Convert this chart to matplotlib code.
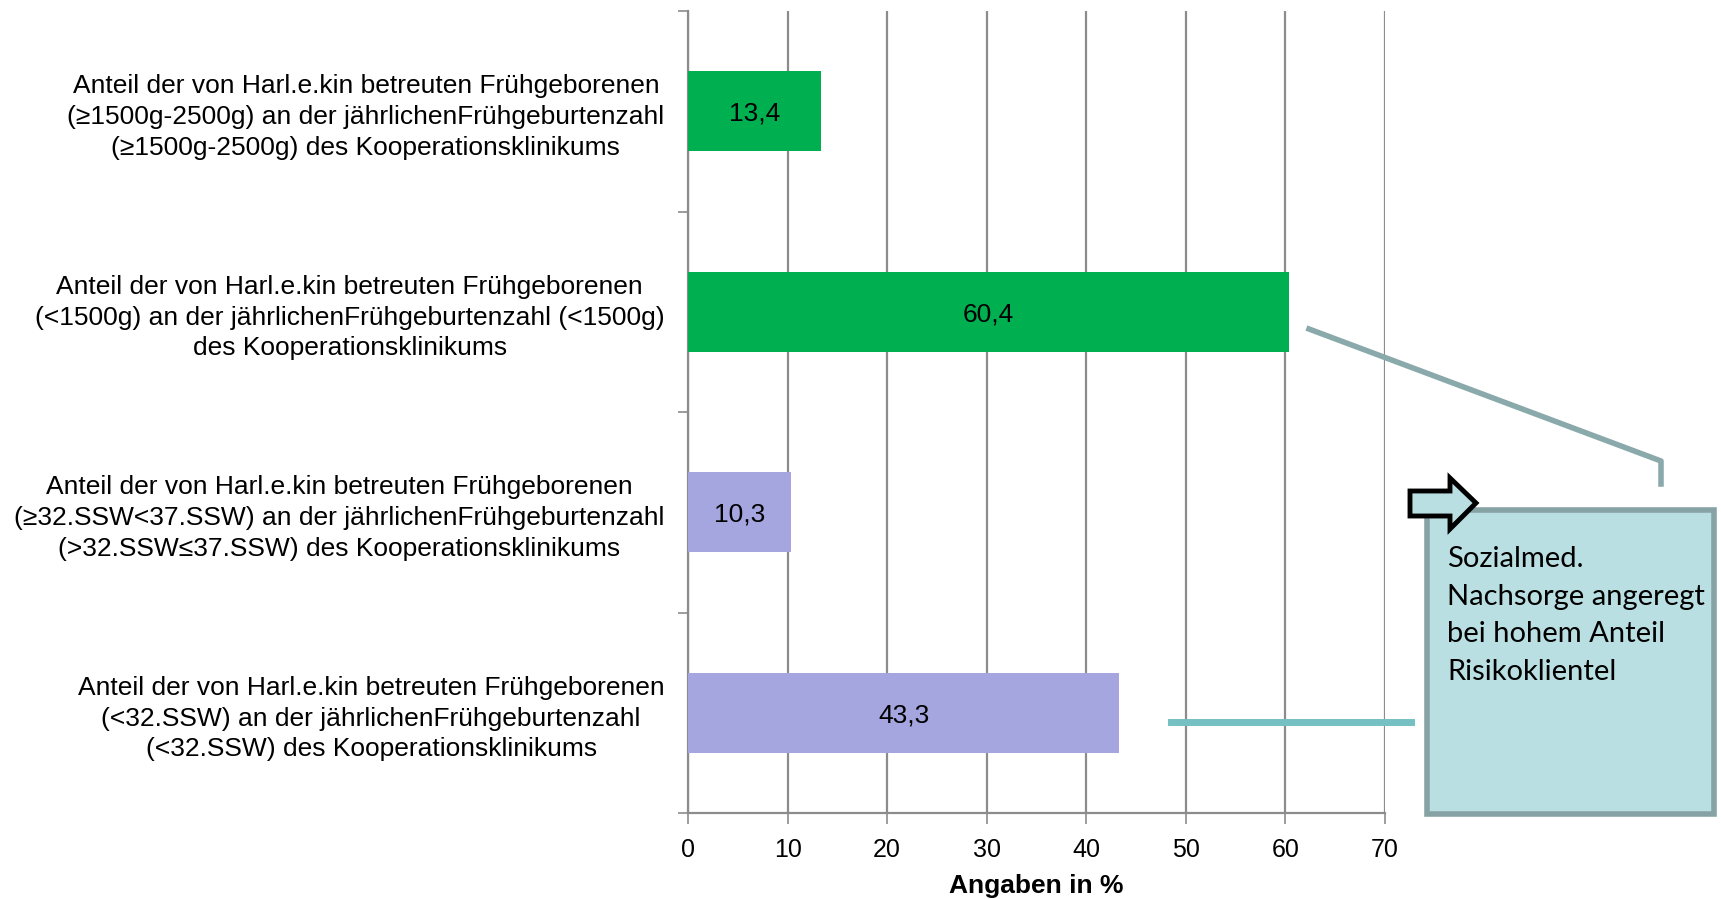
import numpy as np
import matplotlib.pyplot as plt
from matplotlib.patches import Rectangle, Polygon
from matplotlib.lines import Line2D

# --- Daten ---
kategorien = [
    "Anteil der von Harl.e.kin betreuten Frühgeborenen\n(≥1500g-2500g) an der jährlichenFrühgeburtenzahl\n(≥1500g-2500g) des Kooperationsklinikums",
    "Anteil der von Harl.e.kin betreuten Frühgeborenen\n(<1500g) an der jährlichenFrühgeburtenzahl (<1500g)\ndes Kooperationsklinikums",
    "Anteil der von Harl.e.kin betreuten Frühgeborenen\n(≥32.SSW<37.SSW) an der jährlichenFrühgeburtenzahl\n(>32.SSW≤37.SSW) des Kooperationsklinikums",
    "Anteil der von Harl.e.kin betreuten Frühgeborenen\n(<32.SSW) an der jährlichenFrühgeburtenzahl\n(<32.SSW) des Kooperationsklinikums",
]
werte = [13.4, 60.4, 10.3, 43.3]
farben = ["#00b050", "#00b050", "#a5a5e0", "#a5a5e0"]
x_ticks = [0, 10, 20, 30, 40, 50, 60, 70]
hinweis = "Sozialmed.\nNachsorge angeregt\nbei hohem Anteil\nRisikoklientel"

W, H = 1721, 899
plt.rcParams['font.family'] = ['Liberation Sans', 'DejaVu Sans']

fig = plt.figure(figsize=(W / 100, H / 100), dpi=100)
ax = fig.add_axes([688 / W, 1 - 813 / H, (1385 - 688) / W, (813 - 11) / H])

def px(x, y):
    # Pixelkoordinaten -> Figurenkoordinaten
    return (x / W, 1 - y / H)

pos = np.arange(len(werte))[::-1]
bars = ax.barh(pos, werte, height=0.4, color=farben, zorder=3)
for p, v in zip(pos, werte):
    ax.text(v / 2, p, f"{v:.1f}".replace(".", ","), ha='center', va='center_baseline',
            fontsize=19, zorder=4)

ax.set_xlim(0, 70)
ax.set_ylim(-0.5, 3.5)
ax.set_xticks(x_ticks)
ax.set_xticklabels([str(t) for t in x_ticks], fontsize=18)
ax.xaxis.grid(True, color='#8c8c8c', linewidth=1.6, zorder=0)
ax.set_axisbelow(True)

ax.set_yticks(np.arange(-0.5, 4.0, 1.0))
ax.set_yticklabels([])
ax.set_yticks(pos, kategorien, minor=True)
ax.tick_params(axis='y', which='minor', length=0, pad=17, labelsize=19)
ax.tick_params(axis='y', which='major', length=7, color='#8c8c8c', width=1.2)
ax.tick_params(axis='x', length=8, color='#8c8c8c', width=1.2, pad=10)
for lab in ax.get_yticklabels(minor=True):
    lab.set_multialignment('center')
    lab.set_verticalalignment('center_baseline')
    lab.set_linespacing(1.35)

for s in ['top', 'right']:
    ax.spines[s].set_visible(False)
for s in ['left', 'bottom']:
    ax.spines[s].set_color('#8c8c8c')
    ax.spines[s].set_linewidth(1.6)

ax.set_xlabel("Angaben in %", fontsize=19, fontweight='bold', labelpad=9)

# --- Anmerkungen ---
fig.add_artist(Line2D(*zip(px(1309, 329), px(1661, 461), px(1661, 484)),
                      transform=fig.transFigure, color='#8aa9ab', linewidth=4))
fig.add_artist(Line2D(*zip(px(1171, 722), px(1411, 722)),
                      transform=fig.transFigure, color='#75c0c2', linewidth=5))

bx0, by0 = px(1427, 814)
bx1, by1 = px(1714, 510)
fig.add_artist(Rectangle((bx0, by0), bx1 - bx0, by1 - by0, transform=fig.transFigure,
                         facecolor='#b9dfe2', edgecolor='#87a2a4', linewidth=4))
fig.text(1447 / W, 1 - 546 / H, hinweis, family=['Lato', 'DejaVu Sans'],
         fontsize=21, va='top', ha='left', linespacing=1.55)

pfeil = [px(1410, 491), px(1450, 491), px(1450, 478), px(1476, 503),
         px(1450, 529), px(1450, 516), px(1410, 516)]
fig.add_artist(Polygon(pfeil, closed=True, transform=fig.transFigure,
                       facecolor='#b9dfe2', edgecolor='black', linewidth=3.5))

fig.savefig("out.png", dpi=100)
